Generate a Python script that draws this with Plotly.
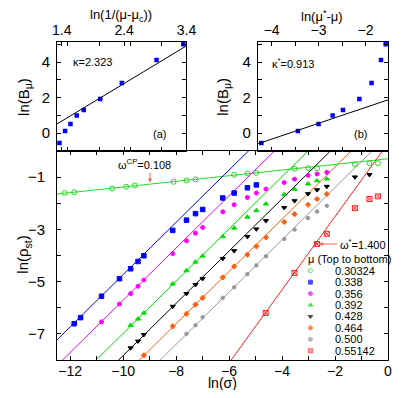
import plotly.graph_objects as go
import numpy as np

# ---- inset data: ln(B_mu) against the two distance variables
inv_dist_c = [1.364, 1.453, 1.54, 1.64, 1.753, 2.017, 2.364, 2.92, 3.35]
dist_star = [-4.22, -3.44, -3.00, -2.70, -2.48, -2.13, -1.87, -1.67, -1.57]
ln_b = [-0.56, 0.13, 0.52, 0.99, 1.31, 1.93, 2.83, 4.13, 5.01]
fit_a = (2.12, -2.287)   # slope, intercept as drawn
fit_b = (0.893, 3.236)

# ---- main panel: ln(rho_st) vs ln(sigma), one list pair per mu
mu_labels = ["0.30324", "0.338", "0.356", "0.392", "0.428", "0.464", "0.500", "0.55142"]

x_30324 = [-12.21, -11.85, -10.42, -9.89, -9.56, -8.10, -7.61, -7.27, -5.81, -5.30, -4.98, -3.53, -3.02, -2.68, -1.25, -0.70, -0.38]
y_30324 = [-1.61, -1.58, -1.44, -1.37, -1.32, -1.18, -1.13, -1.09, -0.91, -0.86, -0.84, -0.68, -0.66, -0.66, -0.51, -0.47, -0.47]
x_338 = [-11.85, -11.61, -10.82, -10.14, -9.72, -9.44, -9.22, -8.13, -7.61, -7.27, -7.00, -6.24, -5.81, -5.31, -4.97]
y_338 = [-6.61, -6.38, -5.56, -4.89, -4.51, -4.23, -4.01, -3.04, -2.65, -2.40, -2.24, -1.80, -1.61, -1.41, -1.30]
x_356 = [-10.82, -10.14, -9.72, -9.44, -9.22, -8.13, -7.61, -7.27, -7.00, -6.24, -5.81, -5.31, -4.97, -4.61, -3.92, -3.53, -3.02, -2.68, -2.31]
y_356 = [-6.54, -5.86, -5.46, -5.18, -4.94, -3.93, -3.44, -3.15, -2.93, -2.33, -2.06, -1.78, -1.61, -1.46, -1.21, -1.08, -0.94, -0.88, -0.82]
x_392 = [-9.72, -9.44, -9.22, -8.13, -7.61, -7.27, -7.00, -6.24, -5.81, -5.31, -4.97, -4.61, -3.92, -3.53, -3.02, -2.68, -2.31]
y_392 = [-6.67, -6.43, -6.20, -5.09, -4.58, -4.25, -4.02, -3.28, -2.95, -2.53, -2.28, -2.03, -1.67, -1.46, -1.26, -1.14, -1.07]
x_428 = [-9.72, -9.44, -9.22, -8.13, -7.61, -7.27, -7.00, -6.24, -5.81, -5.31, -4.97, -4.61, -3.92, -3.53, -3.02, -2.68, -2.31, -1.25, -0.70]
y_428 = [-7.54, -7.28, -7.03, -5.95, -5.46, -5.12, -4.89, -4.12, -3.82, -3.28, -2.99, -2.67, -2.17, -1.91, -1.64, -1.49, -1.36, -1.00, -0.91]
x_464 = [-9.22, -8.13, -7.61, -7.27, -7.00, -6.24, -5.81, -5.31, -4.97, -4.61, -3.92, -3.53, -3.02, -2.68, -2.31]
y_464 = [-7.82, -6.71, -6.23, -5.88, -5.62, -4.84, -4.42, -3.97, -3.65, -3.31, -2.72, -2.42, -2.06, -1.84, -1.65]
x_500 = [-7.61, -7.27, -7.00, -6.24, -5.81, -5.31, -4.97, -4.61, -3.92, -3.53, -3.02, -2.68, -2.31]
y_500 = [-7.00, -6.67, -6.36, -5.62, -5.22, -4.71, -4.38, -4.03, -3.37, -3.01, -2.57, -2.32, -2.10]
x_55142 = [-4.62, -3.53, -2.68, -2.31, -1.25, -0.70, -0.38]
y_55142 = [-6.20, -4.67, -3.56, -3.17, -2.19, -1.84, -1.74]

slopes = [0.108, 1.0, 1.0, 1.0, 1.0, 1.0, 1.0, 1.400]
intercepts = [-0.30, 5.27, 4.29, 3.02, 2.17, 1.39, 0.60, 0.29]

series_x = [x_30324, x_338, x_356, x_392, x_428, x_464, x_500, x_55142]
series_y = [y_30324, y_338, y_356, y_392, y_428, y_464, y_500, y_55142]
colors = ["#22dd22", "#0000ff", "#ff00ff", "#00dd00", "#000000", "#ff6010", "#999999", "#ff2020"]
symbols = ["circle-open", "square", "circle", "triangle-up", "triangle-down", "diamond", "circle", "square-x-open"]
sizes = [5, 4.5, 4, 4.5, 4.5, 4, 3.5, 5]

# the page body keeps its default 8px margin: size the figure so nothing overflows
OFF = 8
W, H = 415 - 2 * OFF, 398 - 2 * OFF
X0, X1, Y0, Y1 = 57, 398.3, 42, 360.5      # plot box in window pixels
L, R, T, B = X0 - OFF, W - (X1 - OFF), Y0 - OFF, H - (Y1 - OFF)
PW, PH = X1 - X0, Y1 - Y0

def px(x, y):
    return (x - X0) / PW, (Y1 - y) / PH

FONT = "Liberation Sans, Arial, sans-serif"
y_split = px(0, 151.1)[1]

fig = go.Figure()

# insets
fig.add_trace(go.Scatter(x=inv_dist_c, y=ln_b, mode="markers", xaxis="x2", yaxis="y2",
                         marker=dict(symbol="square", size=4.5, color="#0000ff")))
xa = np.array([1.2, 3.5])
fig.add_trace(go.Scatter(x=xa, y=fit_a[0] * xa + fit_a[1], mode="lines", xaxis="x2", yaxis="y2",
                         line=dict(color="black", width=1)))
fig.add_trace(go.Scatter(x=dist_star, y=ln_b, mode="markers", xaxis="x3", yaxis="y3",
                         marker=dict(symbol="square", size=4.5, color="#0000ff")))
xb = np.array([-4.4, -1.4])
fig.add_trace(go.Scatter(x=xb, y=fit_b[0] * xb + fit_b[1], mode="lines", xaxis="x3", yaxis="y3",
                         line=dict(color="black", width=1)))

# main panel: fit lines then points
xl = np.array([-13.0, 0.5])
for s, b, c in zip(slopes, intercepts, colors):
    fig.add_trace(go.Scatter(x=xl, y=s * xl + b, mode="lines", line=dict(color=c, width=1)))
for xs, ys, c, sym, sz in zip(series_x, series_y, colors, symbols, sizes):
    fig.add_trace(go.Scatter(x=xs, y=ys, mode="markers",
                             marker=dict(symbol=sym, size=sz, color=c, line=dict(color=c, width=1))))

# hand-made key (plotly's legend rows are too tall for this spacing)
rows = np.arange(len(mu_labels))
row_y = 120 + 11.45 * rows
fig.add_trace(go.Scatter(x=[318.3 - X0] * len(rows), y=row_y, mode="markers", xaxis="x4", yaxis="y4",
                         marker=dict(symbol=symbols, size=[4] * len(rows), color=colors,
                                     line=dict(color=colors, width=1))))

ann = []
def text(x, y, s, size=15, anchor="center", angle=0):
    ax, ay = px(x, y)
    ann.append(dict(x=ax, y=ay, xref="paper", yref="paper", text=s, showarrow=False,
                    xanchor=anchor, yanchor="middle", textangle=angle, font=dict(size=size)))

text(122.7, 15, "ln(1/(μ-μ<sub>c</sub>))", 13)
text(330, 16, "ln(μ<sup>*</sup>-μ)", 13)
text(24, 97, "ln(B<sub>μ</sub>)", angle=-90)
text(229, 97, "ln(B<sub>μ</sub>)", angle=-90)
text(23, 255, "ln(ρ<sub>st</sub>)", angle=-90)
text(227.5, 384, "ln(σ)", 14)
text(71, 62, "κ=2.323", 11, "left")
text(163, 134, "(a)", 11)
text(276.7, 63, "κ<sup>*</sup>=0.913", 11, "left")
text(369.5, 134, "(b)", 11)
text(147.5, 164, "ω<sup>CP</sup>=0.108", 11)
text(347, 244, "ω<sup>*</sup>=1.400", 11, "left")
text(314, 259, "μ (Top to bottom)", 11, "left")
for r, lab in zip(row_y, mu_labels):
    ann.append(dict(x=341.7 - X0, y=r, xref="x4", yref="y4", text=lab, showarrow=False,
                    xanchor="left", yanchor="middle", font=dict(size=11)))

# arrows pointing at the two exponents
ann.append(dict(x=-8.99, y=-1.21, xref="x", yref="y", text="", showarrow=True, ax=0, ay=-11,
                arrowhead=2, arrowsize=0.8, arrowwidth=1, arrowcolor="#ff6060"))
ann.append(dict(x=-2.62, y=-3.56, xref="x", yref="y", text="", showarrow=True, ax=20, ay=0,
                arrowhead=2, arrowsize=0.8, arrowwidth=1, arrowcolor="#ff6060"))

minor = dict(ticks="inside", ticklen=4, tickcolor="black")
ax_style = dict(showline=True, linecolor="black", linewidth=1, mirror="allticks", ticks="inside",
                ticklen=4, tickcolor="black", showgrid=False, zeroline=False,
                tickfont=dict(size=15))

fig.update_layout(
    width=W, height=H, margin=dict(l=L, r=R, t=T, b=B),
    paper_bgcolor="white", plot_bgcolor="white", showlegend=False,
    font=dict(family=FONT, color="black"),
    xaxis=dict(ax_style, domain=[0, 1], range=[-12.5, 0], anchor="y", tick0=0, dtick=2,
               minor=dict(minor, dtick=1), ticklabelstandoff=-2, tickfont=dict(size=14)),
    yaxis=dict(ax_style, domain=[0, y_split], range=[-8, 0], anchor="x", tick0=-1, dtick=2,
               minor=dict(minor, dtick=1), ticklabelstandoff=8),
    xaxis2=dict(ax_style, domain=[0, px(190.5, 0)[0]], range=[1.324, 3.4], anchor="y2", side="top",
                tick0=1.4, dtick=1, minor=dict(minor, dtick=0.5), tickfont=dict(size=14)),
    yaxis2=dict(ax_style, domain=[y_split, 1], range=[-1.0, 5.14], anchor="x2", tick0=0, dtick=2,
                minor=dict(minor, dtick=1), ticklabelstandoff=3),
    xaxis3=dict(ax_style, domain=[px(264, 0)[0], 1], range=[-4.296, -1.52], anchor="y3", side="top",
                tick0=0, dtick=1, minor=dict(minor, dtick=0.5), tickfont=dict(size=14)),
    yaxis3=dict(ax_style, domain=[y_split, 1], range=[-1.0, 5.14], anchor="x3", tick0=0, dtick=2,
                minor=dict(minor, dtick=1), ticklabelstandoff=3),
    xaxis4=dict(domain=[0, 1], range=[0, PW], overlaying="x", visible=False),
    yaxis4=dict(domain=[0, y_split], range=[PH * y_split, 0], overlaying="y", visible=False),
    annotations=ann,
)

fig.write_html("out.html")
